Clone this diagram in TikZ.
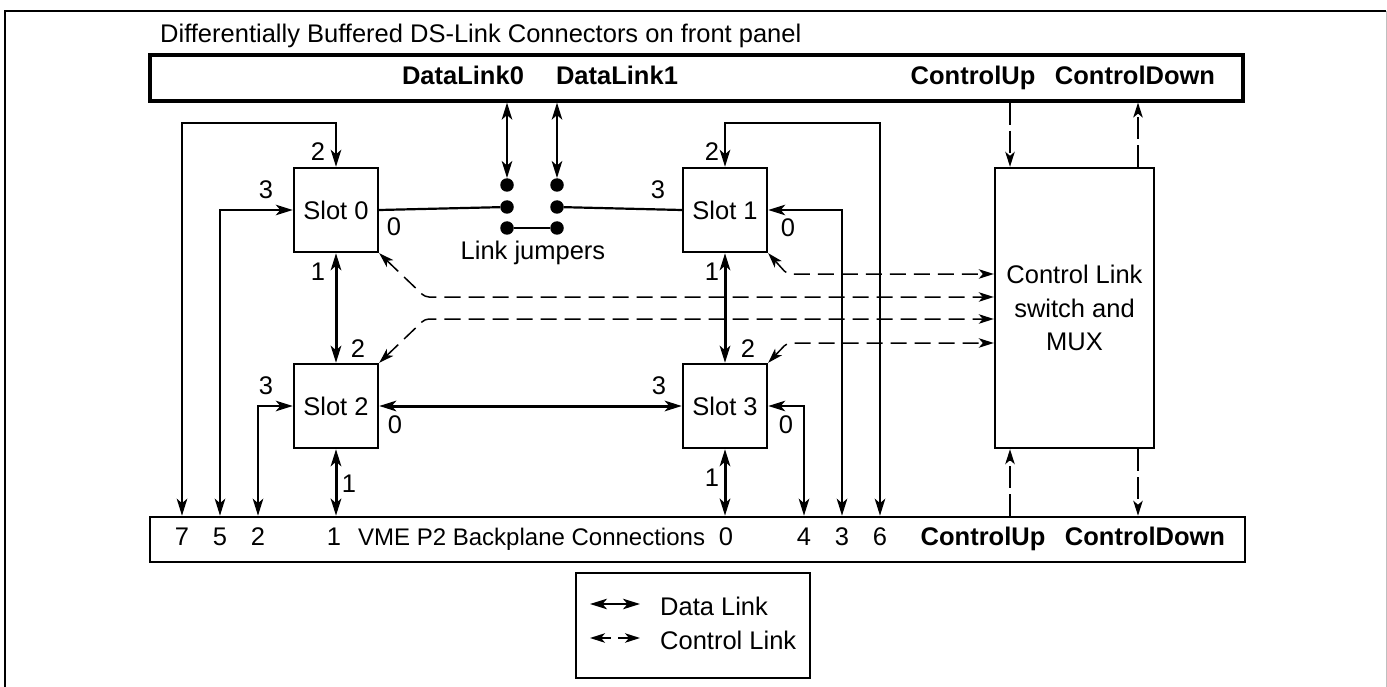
\documentclass[tikz,border=0pt]{standalone}
\usepackage{fontspec}
\setmainfont{Liberation Sans}
\usetikzlibrary{arrows.meta,calc}

\begin{document}
\begin{tikzpicture}[x=1pt,y=-1pt,
  txt/.style={font=\fontsize{25.5}{30}\selectfont, inner sep=0pt},
  boldtxt/.style={font=\fontsize{25.5}{30}\selectfont\bfseries, inner sep=0pt},
  slot/.style={draw, line width=2.4pt, minimum width=84pt, minimum height=84pt,
               inner sep=0pt, font=\fontsize{25.5}{30}\selectfont},
  panel/.style={draw, inner sep=0pt},
  jdot/.style={circle, fill, inner sep=0pt, minimum size=13.5pt},
  dtip/.style={},
  dl/.style={line width=2.2pt, {Stealth[length=17pt,width=10.5pt,inset=4.5pt]}-{Stealth[length=17pt,width=10.5pt,inset=4.5pt]}},
  dlthick/.style={dl, line width=3pt},
  plain/.style={line width=2.2pt},
  cl/.style={line width=1.5pt, dash pattern=on 16pt off 8pt, rounded corners=4pt},
  clboth/.style={cl, {Stealth[length=15pt,width=9.5pt,inset=4pt]}-{Stealth[length=15pt,width=9.5pt,inset=4pt]}},
  clend/.style={cl, -{Stealth[length=15pt,width=9.5pt,inset=4pt]}},
]
\useasboundingbox (0,0) rectangle (1387,687);

% outer frame
\draw[line width=1.6pt] (5,687) -- (5,11) -- (1386,11);
\draw[gray!50, line width=1pt] (1386,11) -- (1386,687);

% title
\node[txt, anchor=base west] (title) at (160,43)
  {Differentially Buffered DS-Link Connectors on front panel};

% front panel and backplane
\node[panel, line width=3.2pt, minimum width=1093pt, minimum height=46pt] (top) at (696.5,78) {};
\node[panel, line width=2.6pt, minimum width=1095pt, minimum height=45pt] (bot) at (697.5,539.5) {};

\node[boldtxt, anchor=base] (tdl0) at (463,85) {DataLink0};
\node[boldtxt, anchor=base] (tdl1) at (617,85) {DataLink1};
\node[boldtxt, anchor=base] (tcu) at (973,85) {ControlUp};
\node[boldtxt, anchor=base] (tcd) at (1135,85) {ControlDown};

\node[txt, anchor=base] (b7) at (182,545) {7};
\node[txt, anchor=base] (b5) at (220,545) {5};
\node[txt, anchor=base] (b2) at (258,545) {2};
\node[txt, anchor=base] (b1) at (334,545) {1};
\node[font=\fontsize{24}{28}\selectfont, inner sep=0pt, anchor=base west] (bvme) at (358,545)
  {VME P2 Backplane Connections};
\node[txt, anchor=base] (b0) at (726,545) {0};
\node[txt, anchor=base] (b4) at (804,545) {4};
\node[txt, anchor=base] (b3) at (842,545) {3};
\node[txt, anchor=base] (b6) at (880,545) {6};
\node[boldtxt, anchor=base] (bcu) at (983,545) {ControlUp};
\node[boldtxt, anchor=base] (bcd) at (1145,545) {ControlDown};

% slots
\node[slot] (s0) at (336,210) {Slot 0};
\node[slot] (s1) at (725,210) {Slot 1};
\node[slot] (s2) at (336,406) {Slot 2};
\node[slot] (s3) at (725,406) {Slot 3};

% control link switch
\node[draw, line width=2.4pt, minimum width=159pt, minimum height=280pt, inner sep=0pt,
      align=center, font=\fontsize{25.5}{33.5}\selectfont] (ctrl) at (1074.5,308)
  {Control Link\\switch and\\MUX};

% link jumpers
\node[jdot] (j0a) at (507,185) {};
\node[jdot] (j0b) at (507,207) {};
\node[jdot] (j0c) at (507,228) {};
\node[jdot] (j1a) at (557,185) {};
\node[jdot] (j1b) at (557,207) {};
\node[jdot] (j1c) at (557,228) {};
\node[txt] (ljt) at (533,253) {Link jumpers};

% port numbers
\node[txt] (n02) at (318,152) {2};
\node[txt] (n03) at (266,190) {3};
\node[txt] (n00) at (394,227) {0};
\node[txt] (n01) at (318,272) {1};
\node[txt] (n12) at (712,152) {2};
\node[txt] (n13) at (658,190) {3};
\node[txt] (n10) at (788,228) {0};
\node[txt] (n11) at (712,272) {1};
\node[txt] (n22) at (358,349) {2};
\node[txt] (n23) at (266,386) {3};
\node[txt] (n20) at (395,425) {0};
\node[txt] (n21) at (349,484) {1};
\node[txt] (n32) at (748,349) {2};
\node[txt] (n33) at (659,386) {3};
\node[txt] (n30) at (786,425) {0};
\node[txt] (n31) at (712,478) {1};

% routing columns
\coordinate (c7) at (182,123);
\coordinate (c5) at (220,207);
\coordinate (c2) at (258,406);
\coordinate (c4) at (804,406);
\coordinate (c3) at (842,207);
\coordinate (c6) at (880,123);

% data links to the backplane
\draw[dl] (s0.north) |- (c7) -- (c7 |- bot.north);
\draw[dl] (s0.west) -| (c5 |- bot.north);
\draw[dl] (s2.west) -| (c2 |- bot.north);
\draw[dl] (s3.east) -| (c4 |- bot.north);
\draw[dl] (s1.east) -| (c3 |- bot.north);
\draw[dl] (s1.north) |- (c6) -- (c6 |- bot.north);

% data links between slots
\draw[dlthick] (s0.south) -- (s2.north);
\draw[dlthick] (s1.south) -- (s3.north);
\draw[dlthick] (s2.east) -- (s3.west);
\draw[dlthick] (s2.south) -- (s2.south |- bot.north);
\draw[dlthick] (s3.south) -- (s3.south |- bot.north);

% front panel data links through the jumpers
\draw[dl] (j0a.center |- top.south) -- (j0a);
\draw[dl] (j1a.center |- top.south) -- (j1a);
\draw[plain] (s0.east) -- (j0b);
\draw[plain] (s1.west) -- (j1b);
\draw[plain] (j0c) -- (j1c);

% control links to the switch
\coordinate (k0) at (425,297);
\coordinate (k2) at (425,319);
\coordinate (k1) at (787,274);
\coordinate (k3) at (787,343);
\draw[clboth] (s1.south east) -- (k1) -- (k1 -| ctrl.west);
\draw[clboth] (s0.south east) -- (k0) -- (k0 -| ctrl.west);
\draw[clboth] (s2.north east) -- (k2) -- (k2 -| ctrl.west);
\draw[clboth] (s3.north east) -- (k3) -- (k3 -| ctrl.west);

% ControlUp / ControlDown
\coordinate (cu) at (1010,0);
\coordinate (cd) at (1138,0);
\draw[clend, dash pattern=on 22pt off 6pt] (cu |- top.south) -- (cu |- ctrl.north);
\draw[clend, dash pattern=on 22pt off 6pt] (cd |- ctrl.north) -- (cd |- top.south);
\draw[clend, dash pattern=on 22pt off 6pt] (cu |- bot.north) -- (cu |- ctrl.south);
\draw[clend, dash pattern=on 22pt off 6pt] (cd |- ctrl.south) -- (cd |- bot.north);

% legend
\node[draw, line width=2.4pt, minimum width=234pt, minimum height=105pt, inner sep=0pt] (leg) at (693,625.5) {};
\coordinate (la) at (590,604);
\coordinate (lb) at (640,604);
\coordinate (lc) at (590,638);
\coordinate (ld) at (640,638);
\draw[dl] (la) -- (lb);
\draw[line width=1.6pt, dash pattern=on 11pt off 7pt,
      {Stealth[length=15pt,width=9.5pt,inset=4pt]}-{Stealth[length=15pt,width=9.5pt,inset=4pt]}] (lc) -- (ld);
\node[txt, anchor=west] (ldl) at (660,606) {Data Link};
\node[txt, anchor=west] (lcl) at (660,640) {Control Link};
\end{tikzpicture}
\end{document}
